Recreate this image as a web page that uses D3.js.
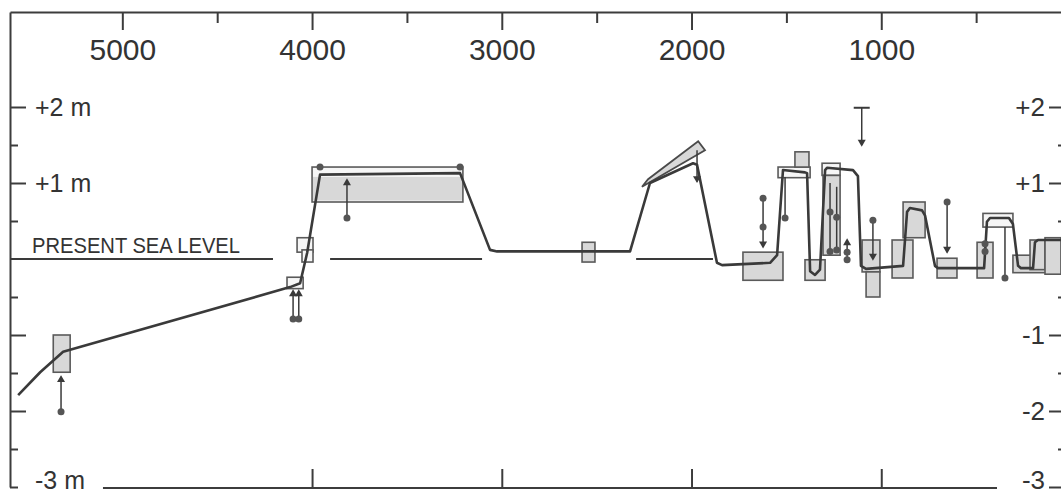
<!DOCTYPE html>
<html>
<head>
<meta charset="utf-8">
<script src="https://cdn.jsdelivr.net/npm/d3@7"></script>
<style>
  body { margin: 0; background: #fff; }
  svg { display: block; font-family: "Liberation Sans", Arial, sans-serif; }
  .axis path, .axis line { stroke: #3c3c3c; stroke-width: 2; }
  .axis text { fill: #333; }
</style>
</head>
<body>
<svg id="chart" width="1061" height="495"></svg>
<script>
// years BP -> metres relative to present sea level
var curveYears  = [5549, 5433, 5312, 4116, 4063, 4026, 3958, 3220, 3062, 3025, 2324, 2219, 1992, 1971, 1866, 1839,
                   1586, 1549, 1518, 1402, 1391, 1375, 1349, 1323, 1296, 1286, 1149, 1123, 1107, 1080,
                   885, 864, 849, 785, 769, 717, 701, 458, 443, 427, 327, 306, 279, 264, 200, 190, 174, 53];
var curveLevels = [-1.79, -1.49, -1.22, -0.37, -0.32, 0.08, 1.11, 1.13, 0.12, 0.10, 0.10, 1.00, 1.26, 1.24, -0.05, -0.08,
                   -0.05, 0.05, 1.17, 1.14, 1.13, -0.16, -0.21, -0.14, 1.17, 1.20, 1.17, 1.09, -0.09, -0.13,
                   -0.09, 0.62, 0.67, 0.64, 0.57, -0.09, -0.12, -0.12, 0.49, 0.54, 0.54, 0.46, -0.09, -0.12, -0.12, 0.22, 0.25, 0.25];

// sample boxes: older age, younger age, top, bottom, style (1 shaded, 0 open, 2 shade only)
var boxOld    = [5364, 4079, 4053, 4132, 4000, 3995, 2577, 1729, 1544, 1455, 1402, 1312, 1307, 1101, 1080, 943, 885, 706, 495, 464, 306, 216, 137];
var boxYoung  = [5275, 3995, 3995, 4047, 3205, 3210, 2509, 1518, 1375, 1381, 1296, 1217, 1217, 1007, 1007, 833, 769, 601, 411, 306, 126, 137, 53];
var boxTop    = [-1.00, 0.28, 0.12, -0.24, 1.21, 1.08, 0.22, 0.09, 1.21, 1.41, -0.01, 1.26, 1.10, 0.25, -0.17, 0.25, 0.75, 0.01, 0.22, 0.60, 0.05, 0.25, 0.28];
var boxBottom = [-1.49, 0.09, -0.04, -0.39, 0.75, 0.77, -0.04, -0.28, 1.07, 1.21, -0.28, 1.10, 0.05, -0.17, -0.50, -0.25, 0.28, -0.25, -0.25, 0.42, -0.18, -0.14, -0.20];
var boxStyle  = [1, 0, 0, 0, 0, 2, 1, 1, 0, 1, 1, 0, 1, 1, 1, 1, 1, 1, 1, 0, 1, 1, 1];

// slanted sample around 2000 BP (age, level)
var slantYears  = [2261, 2229, 1965, 1929];
var slantLevels = [0.95, 1.05, 1.55, 1.43];

// range bars: age, top, bottom, arrow ("up"/"down"/"")
var barYears  = [5323, 4100, 4070, 3816, 1971, 1623, 1507, 1270, 1235, 1180, 1103, 1044, 653, 348];
var barTops   = [-1.55, -0.42, -0.42, 1.04, 1.43, 0.80, 1.08, 1.00, 0.95, 0.25, 1.99, 0.51, 0.75, 0.42];
var barBottom = [-2.01, -0.79, -0.79, 0.54, 1.02, 0.16, 0.54, 0.10, 0.10, -0.05, 1.50, 0.00, 0.09, -0.25];
var barArrow  = ["up", "up", "up", "up", "down", "down", "", "", "", "up", "down", "down", "down", ""];

// dated points
var dotYears  = [5323, 4100, 4070, 3816, 3958, 3220, 1623, 1623, 1507, 1270, 1270, 1235, 1235, 1180, 1180, 1044, 653, 348, 453, 453];
var dotLevels = [-2.01, -0.79, -0.79, 0.54, 1.21, 1.21, 0.80, 0.42, 0.54, 0.62, 0.10, 0.55, 0.12, 0.09, -0.01, 0.51, 0.75, -0.25, 0.20, 0.10];

var seaFrom = [5592, 3905, 2292];
var seaTo   = [4206, 3104, 1887];

var yearTicks  = [5000, 4000, 3000, 2000, 1000];
var yearMinor  = [4500, 3500, 2500, 1500, 500];
var levelTicks = [2, 1, -1, -2, -3];
var levelMinor = [1.5, 0.5, -0.5, -1.5, -2.5];
var leftLabels = {"2": "+2 m", "1": "+1 m", "-3": "-3 m"};
var rightLabels = {"2": "+2", "1": "+1", "-1": "-1", "-2": "-2", "-3": "-3"};

var ink = "#3a3a3a";
var svg = d3.select("#chart");

var x = d3.scaleLinear().domain([5592, 0]).range([10, 1071]);
var y = d3.scaleLinear().domain([-3, 3.25]).range([487, 12]);

// top axis
svg.append("g").attr("class", "axis").attr("transform", "translate(0,12)")
  .call(d3.axisBottom(x).tickValues(yearTicks).tickSize(18).tickSizeOuter(0).tickPadding(9).tickFormat(d3.format("d")))
  .selectAll("text").style("font-size", "30px");
svg.append("g").attr("class", "axis").attr("transform", "translate(0,12)")
  .call(d3.axisBottom(x).tickValues(yearMinor).tickSize(11).tickFormat(""))
  .select(".domain").remove();

// bottom axis
svg.append("line").attr("x1", x(5102)).attr("x2", x(390)).attr("y1", y(-3) + 1).attr("y2", y(-3) + 1)
  .attr("stroke", "#3c3c3c").attr("stroke-width", 2);
svg.append("g").attr("class", "axis").attr("transform", "translate(0," + (y(-3) + 1) + ")")
  .call(d3.axisTop(x).tickValues([4000, 3000, 2000, 1000]).tickSize(19).tickFormat(""))
  .select(".domain").remove();

// left axis
var left = svg.append("g").attr("class", "axis").attr("transform", "translate(10,0)")
  .call(d3.axisRight(y).tickValues(levelTicks).tickSize(16).tickSizeOuter(0).tickPadding(9)
    .tickFormat(function(d) { return leftLabels[d] || ""; }));
left.selectAll("text").style("font-size", "25px");
left.selectAll(".tick").filter(function(d) { return d === -3; }).select("line").attr("x2", 8);
left.selectAll(".tick").filter(function(d) { return d === -3; }).select("text")
  .attr("dy", null).attr("y", 1);
svg.append("g").attr("class", "axis").attr("transform", "translate(10,0)")
  .call(d3.axisRight(y).tickValues(levelMinor).tickSize(8).tickFormat(""))
  .select(".domain").remove();

// right axis
var right = svg.append("g").attr("class", "axis").attr("transform", "translate(1063,0)")
  .call(d3.axisLeft(y).tickValues(levelTicks).tickSize(14).tickSizeOuter(0).tickPadding(4)
    .tickFormat(function(d) { return rightLabels[d]; }));
right.selectAll("text").style("font-size", "26px");
right.selectAll(".tick").filter(function(d) { return d === -3; }).select("text")
  .attr("dy", null).attr("y", 1);
svg.append("g").attr("class", "axis").attr("transform", "translate(1063,0)")
  .call(d3.axisLeft(y).tickValues(levelMinor.concat([0])).tickSize(5).tickFormat(""))
  .select(".domain").remove();

// present sea level
svg.selectAll(".sea").data(seaFrom).enter().append("line").attr("class", "sea")
  .attr("x1", function(d) { return x(d); })
  .attr("x2", function(d, i) { return x(seaTo[i]); })
  .attr("y1", y(0)).attr("y2", y(0))
  .attr("stroke", ink).attr("stroke-width", 2);
svg.append("text").attr("x", 32).attr("y", y(0) - 6)
  .attr("textLength", 208).attr("lengthAdjust", "spacingAndGlyphs")
  .style("font-size", "22px").attr("fill", "#333").text("PRESENT SEA LEVEL");

// boxes
svg.selectAll(".box").data(boxOld).enter().append("rect").attr("class", "box")
  .attr("x", function(d) { return x(d); })
  .attr("y", function(d, i) { return y(boxTop[i]); })
  .attr("width", function(d, i) { return x(boxYoung[i]) - x(d); })
  .attr("height", function(d, i) { return y(boxBottom[i]) - y(boxTop[i]); })
  .attr("fill", function(d, i) { return boxStyle[i] ? "#d8d8d8" : "#f6f6f6"; })
  .attr("stroke", function(d, i) { return boxStyle[i] === 2 ? "none" : "#5a5a5a"; })
  .attr("stroke-width", 1.6);

svg.append("polygon")
  .attr("points", slantYears.map(function(d, i) { return x(d) + "," + y(slantLevels[i]); }).join(" "))
  .attr("fill", "#d8d8d8").attr("stroke", "#4a4a4a").attr("stroke-width", 1.8);

// range bars
svg.selectAll(".bar").data(barYears).enter().append("line").attr("class", "bar")
  .attr("x1", function(d) { return x(d); }).attr("x2", function(d) { return x(d); })
  .attr("y1", function(d, i) { return y(barTops[i]); })
  .attr("y2", function(d, i) { return y(barBottom[i]); })
  .attr("stroke", ink).attr("stroke-width", 1.5);

var tri = d3.symbol().type(d3.symbolTriangle).size(28);
barYears.forEach(function(d, i) {
  if (!barArrow[i]) return;
  var up = barArrow[i] === "up";
  var yy = up ? y(barTops[i]) + 3 : y(barBottom[i]) - 3;
  svg.append("path").attr("d", tri)
    .attr("transform", "translate(" + x(d) + "," + yy + ") rotate(" + (up ? 0 : 180) + ")")
    .attr("fill", ink);
});
// T cap on the 1100 BP marker
svg.append("line").attr("x1", x(1103) - 8).attr("x2", x(1103) + 8)
  .attr("y1", y(1.99)).attr("y2", y(1.99)).attr("stroke", ink).attr("stroke-width", 2);

// sea level curve
var line = d3.line().x(function(d) { return x(d); }).y(function(d, i) { return y(curveLevels[i]); });
svg.append("path").attr("d", line(curveYears))
  .attr("fill", "none").attr("stroke", ink).attr("stroke-width", 2.6)
  .attr("stroke-linejoin", "round");

// dots
svg.selectAll(".dot").data(dotYears).enter().append("circle").attr("class", "dot")
  .attr("cx", function(d) { return x(d); })
  .attr("cy", function(d, i) { return y(dotLevels[i]); })
  .attr("r", 3.5).attr("fill", "#555");
</script>
</body>
</html>
